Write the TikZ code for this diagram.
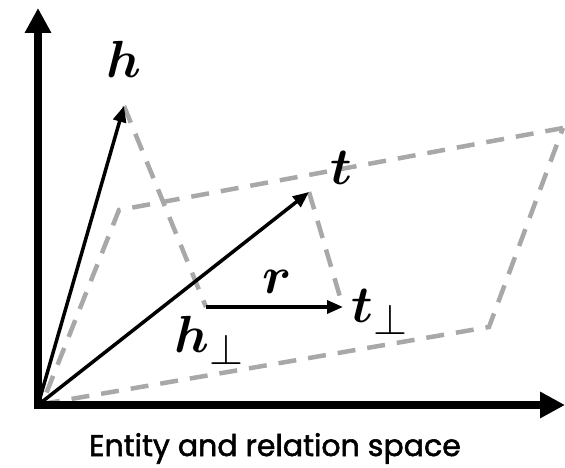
\documentclass[tikz,border=0pt]{standalone}
\usepackage{bm}
\usepackage{fontspec}
\newfontfamily\captionfont[FakeBold=1.8]{Poppins}
\usetikzlibrary{arrows.meta}
\definecolor{planegray}{HTML}{A8A8A8}
\tikzset{
    axisarrow/.style={-{Triangle[length=25pt,width=25pt]}, line width=8pt},
    vecarrow/.style={-{Triangle[length=16pt,width=13pt]}, line width=3.5pt},
    projline/.style={planegray, line width=4.5pt, dash pattern=on 18pt off 12pt},
    veclabel/.style={font=\Huge, scale=2.1, inner sep=0pt, anchor=base}
}
\begin{document}
\begin{tikzpicture}[x=1pt, y=-1pt]
    \useasboundingbox (0,0) rectangle (565,468);

    % points
    \coordinate (O) at (38,405);
    \coordinate (H) at (124,106);
    \coordinate (T) at (309,192);
    \coordinate (Hp) at (206,307);
    \coordinate (Tp) at (343,307);
    \coordinate (P1) at (42,404);
    \coordinate (P2) at (489,327);
    \coordinate (P3) at (563,128);
    \coordinate (P4) at (119,210);
    \coordinate (Ytip) at (38,8);
    \coordinate (Xtip) at (565,405);

    % plane and projections
    \draw[projline] (P1) -- (P2) -- (P3);
    \draw[projline] (P3) -- (P4) -- (P1);
    \draw[projline] (H) -- (Hp);
    \draw[projline] (T) -- (Tp);

    % axes
    \draw[axisarrow] (O) -- (Ytip);
    \draw[axisarrow] ([xshift=-4pt]O) -- (Xtip);

    % vectors
    \draw[vecarrow] (O) -- (H);
    \draw[vecarrow] (O) -- (T);
    \draw[vecarrow] (Hp) -- (Tp);

    \node[veclabel] (hlab) at (124,78) {$\bm{h}$};
    \node[veclabel] (tlab) at (341,185) {$\bm{t}$};
    \node[veclabel] (rlab) at (277,293) {$\bm{r}$};
    \node[veclabel, anchor=base west] (tplab) at (351,322) {$\bm{t}_{\bot}$};
    \node[veclabel, anchor=base west] (hplab) at (174,352) {$\bm{h}_{\bot}$};

    \node[font=\captionfont\fontsize{30}{36}\selectfont, inner sep=0pt, anchor=base] (caption) at (275,456) {Entity and relation space};
\end{tikzpicture}
\end{document}
